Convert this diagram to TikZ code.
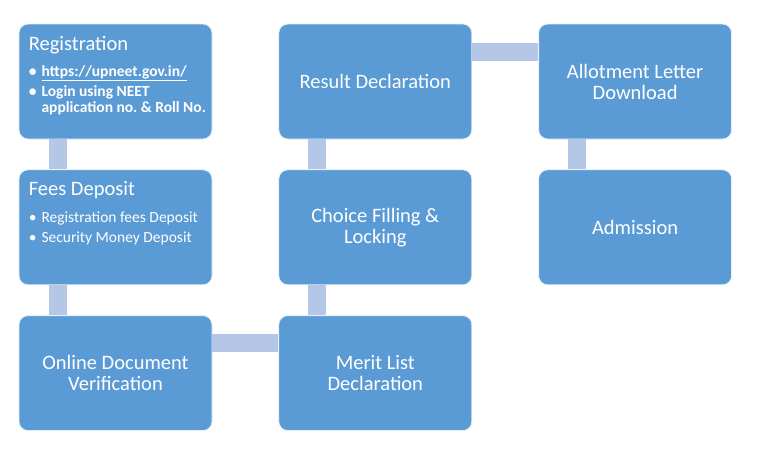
\documentclass[tikz,border=0pt]{standalone}
\usepackage{fontspec}
\setmainfont{Carlito}
\usetikzlibrary{positioning}
\definecolor{boxblue}{HTML}{5B9BD5}
\definecolor{linkblue}{HTML}{B4C7E7}
\frenchspacing

\begin{document}
\begin{tikzpicture}[x=1pt, y=1pt,
        box/.style={draw=white!85!boxblue, line width=0.8pt, rectangle, rounded corners=9pt, fill=boxblue, minimum width=193pt, minimum height=115pt, align=center, text=white, font=\fontsize{20.5}{21}\selectfont, inner sep=2pt},
        boxtitle/.style={text=white, font=\fontsize{20.5}{21}\selectfont, inner sep=0pt, anchor=base west},
        boxlist/.style={text=white, font=\fontsize{15.5}{16}\selectfont, inner sep=0pt, anchor=base west},
        link/.style={draw=linkblue, line width=18pt},
        node distance=30pt and 66pt
    ]
        \useasboundingbox (0,0) rectangle (757,-453);
        \node[box] (reg) at (115.5,-81.5) {};
        \node[box, below=of reg]    (fees)   {};
        \node[box, below=of fees]   (verify) {Online Document\\Verification};
        \node[box, right=of verify] (merit)  {Merit List\\Declaration};
        \node[box, right=of fees]   (choice) {Choice Filling \&\\Locking};
        \node[box, right=of reg]    (result) {Result Declaration};
        \node[box, right=of result] (letter) {Allotment Letter\\Download};
        \node[box, right=of choice] (admit)  {Admission};

        % text of the first two boxes
        \node[boxtitle] (regtitle) at ([shift={(10pt,-27pt)}]reg.north west) {Registration};
        \node[boxlist] (reglist) at ([shift={(10pt,-53pt)}]reg.north west)
            {\bfseries\begin{tabular}[t]{@{}l@{\hspace{5pt}}l@{}}
                • & \underline{https://upneet.gov.in/}\\[4pt]
                • & Login using NEET\\
                  & application no. \& Roll No.
            \end{tabular}};
        \node[boxtitle] (feestitle) at ([shift={(10pt,-26pt)}]fees.north west) {Fees Deposit};
        \node[boxlist] (feeslist) at ([shift={(10pt,-53pt)}]fees.north west)
            {\begin{tabular}[t]{@{}l@{\hspace{5pt}}l@{}}
                • & Registration fees Deposit\\[4pt]
                • & Security Money Deposit
            \end{tabular}};

        \draw[link] ([xshift=39pt]reg.south west)    -- ([xshift=39pt]fees.north west);
        \draw[link] ([xshift=39pt]fees.south west)   -- ([xshift=39pt]verify.north west);
        \draw[link] ([yshift=-28pt]verify.north east) -- ([yshift=-28pt]merit.north west);
        \draw[link] ([xshift=39pt]merit.north west)  -- ([xshift=39pt]choice.south west);
        \draw[link] ([xshift=39pt]choice.north west) -- ([xshift=39pt]result.south west);
        \draw[link] ([yshift=-28pt]result.north east) -- ([yshift=-28pt]letter.north west);
        \draw[link] ([xshift=39pt]letter.south west) -- ([xshift=39pt]admit.north west);
    \end{tikzpicture}
\end{document}
